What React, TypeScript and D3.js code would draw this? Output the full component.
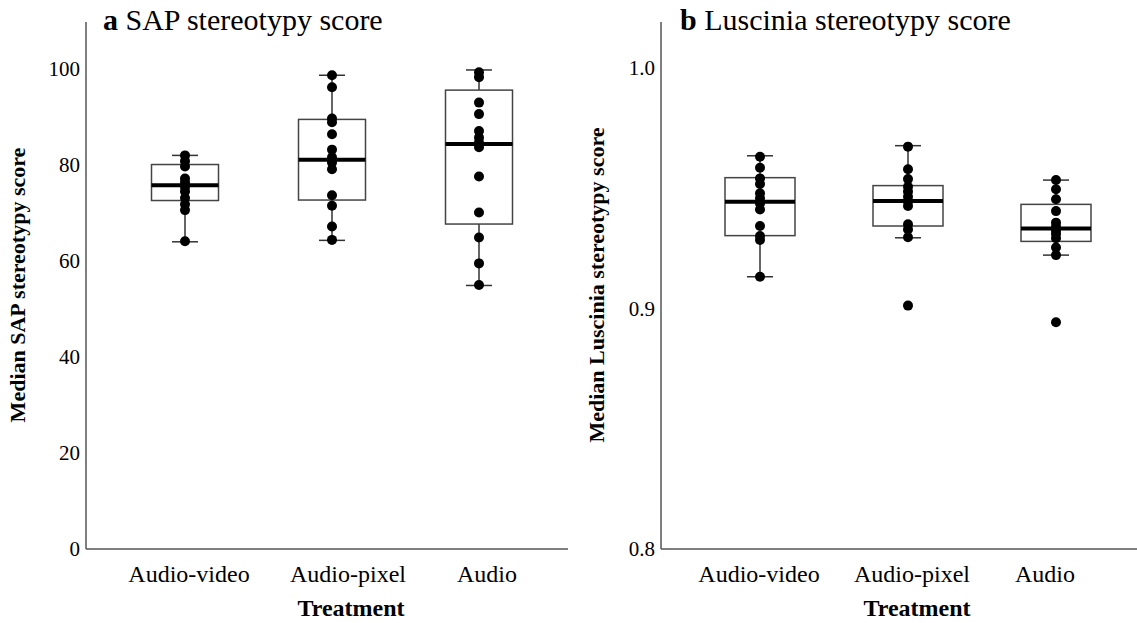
import React, { useEffect, useRef } from 'react'
import * as d3 from 'd3'

const treatments = ['Audio-video', 'Audio-pixel', 'Audio']

// box stats: [lowWhisker, q1, median, q3, highWhisker]
const sapBoxes = [
    [64.0, 72.6, 75.8, 80.1, 82.0],
    [64.3, 72.7, 81.1, 89.5, 98.7],
    [54.9, 67.7, 84.4, 95.6, 99.8],
]
const sapPoints = [
    [82.0, 80.8, 79.7, 77.2, 76.4, 75.4, 74.5, 73.1, 71.8, 70.6, 64.1],
    [98.7, 96.2, 89.7, 88.9, 86.4, 83.2, 81.6, 80.5, 79.1, 73.7, 71.5, 67.2, 64.4],
    [99.3, 98.3, 93.0, 90.6, 87.1, 85.7, 84.7, 83.7, 77.6, 70.1, 64.9, 59.5, 55.0],
]
const sapTicks = [0, 20, 40, 60, 80, 100]

const luscBoxes = [
    [0.9132, 0.9303, 0.9444, 0.9544, 0.9635],
    [0.9294, 0.9343, 0.9447, 0.9511, 0.9677],
    [0.9222, 0.9279, 0.9333, 0.9433, 0.9534],
]
const luscPoints = [
    [0.9631, 0.9585, 0.9541, 0.9518, 0.9479, 0.9458, 0.9437, 0.9412, 0.9343, 0.9301, 0.9285, 0.9132],
    [0.9673, 0.9579, 0.9538, 0.9506, 0.9486, 0.9465, 0.9444, 0.9426, 0.9350, 0.9329, 0.9296, 0.9012],
    [0.9534, 0.9496, 0.9454, 0.9405, 0.9357, 0.9340, 0.9323, 0.9310, 0.9292, 0.9254, 0.9222, 0.8943],
]
const luscTicks = ['0.8', '0.9', '1.0']

const serif = '"Liberation Serif", "Times New Roman", serif'

export default function App() {
    const ref = useRef<SVGSVGElement>(null)

    useEffect(() => {
        const svg = d3.select(ref.current)
        svg.selectAll('*').remove()

        const drawPanel = function (opts: any) {
            const g = svg.append('g')
            const y = d3.scaleLinear().domain(opts.domain).range([549, opts.topValueY])
            const x = d3.scalePoint<string>().domain(treatments).range(opts.xRange)

            // axes (no tick marks)
            g.append('line')
                .attr('x1', opts.axisX).attr('x2', opts.axisX)
                .attr('y1', 22).attr('y2', 549)
                .attr('stroke', '#555').attr('stroke-width', 1.5)
            g.append('line')
                .attr('x1', opts.axisX).attr('x2', opts.axisEnd)
                .attr('y1', 549).attr('y2', 549)
                .attr('stroke', '#555').attr('stroke-width', 1.5)

            opts.ticks.forEach((t: any) => {
                g.append('text')
                    .attr('x', opts.axisX - 6).attr('y', y(+t))
                    .attr('dy', '0.35em')
                    .attr('text-anchor', 'end')
                    .style('font', '21px ' + serif)
                    .text(t)
            })

            treatments.forEach((c, i) => {
                const cx = x(c) as number
                const [lo, q1, med, q3, hi] = opts.boxes[i]
                const hw = opts.boxW / 2
                // whiskers
                g.append('line').attr('x1', cx).attr('x2', cx).attr('y1', y(hi)).attr('y2', y(q3))
                    .attr('stroke', '#333').attr('stroke-width', 1.5)
                g.append('line').attr('x1', cx).attr('x2', cx).attr('y1', y(q1)).attr('y2', y(lo))
                    .attr('stroke', '#333').attr('stroke-width', 1.5)
                g.append('line').attr('x1', cx - 13).attr('x2', cx + 13).attr('y1', y(hi)).attr('y2', y(hi))
                    .attr('stroke', '#333').attr('stroke-width', 1.5)
                g.append('line').attr('x1', cx - 13).attr('x2', cx + 13).attr('y1', y(lo)).attr('y2', y(lo))
                    .attr('stroke', '#333').attr('stroke-width', 1.5)
                // box
                g.append('rect')
                    .attr('x', cx - hw).attr('y', y(q3))
                    .attr('width', opts.boxW).attr('height', y(q1) - y(q3))
                    .attr('fill', 'none').attr('stroke', '#444').attr('stroke-width', 1.5)
                g.append('line').attr('x1', cx - hw).attr('x2', cx + hw).attr('y1', y(med)).attr('y2', y(med))
                    .attr('stroke', '#000').attr('stroke-width', 4)
                // points
                g.selectAll(null).data(opts.points[i]).enter().append('circle')
                    .attr('cx', cx).attr('cy', (d: any) => y(d)).attr('r', 5)
                    .attr('fill', '#000')

                // category labels sit a bit off the box centres in the original
                g.append('text')
                    .attr('x', cx + opts.labelShift[i]).attr('y', 582)
                    .attr('text-anchor', 'middle')
                    .style('font', '24px ' + serif)
                    .text(c)
            })

            g.append('text')
                .attr('x', opts.treatX).attr('y', 616)
                .attr('text-anchor', 'middle')
                .style('font', 'bold 24px ' + serif)
                .text('Treatment')

            g.append('text')
                .attr('transform', 'translate(' + opts.ylabX + ',285) rotate(-90)')
                .attr('text-anchor', 'middle')
                .style('font', 'bold 22px ' + serif)
                .text(opts.ylab)

            const title = g.append('text')
                .attr('x', opts.titleX).attr('y', 30)
                .style('font', '30px ' + serif)
            title.append('tspan').style('font-weight', 'bold').text(opts.letter + ' ')
            title.append('tspan').text(opts.title)
        }

        drawPanel({
            domain: [0, 100], topValueY: 69, xRange: [185, 479], axisX: 86, axisEnd: 568, boxW: 67,
            boxes: sapBoxes, points: sapPoints, ticks: sapTicks, treatX: 351, ylabX: 25,
            labelShift: [4, 16, 8],
            ylab: 'Median SAP stereotypy score', titleX: 103, letter: 'a', title: 'SAP stereotypy score',
        })
        drawPanel({
            domain: [0.8, 1.0], topValueY: 68, xRange: [760, 1056], axisX: 661, axisEnd: 1137, boxW: 70,
            boxes: luscBoxes, points: luscPoints, ticks: luscTicks, treatX: 917, ylabX: 604,
            labelShift: [-1, 4, -11],
            ylab: 'Median Luscinia stereotypy score', titleX: 680, letter: 'b', title: 'Luscinia stereotypy score',
        })
    }, [])

    return (
        <svg ref={ref} width={1137} height={623}
            style={{ position: 'absolute', left: 0, top: 0, background: '#fff' }} />
    )
}
